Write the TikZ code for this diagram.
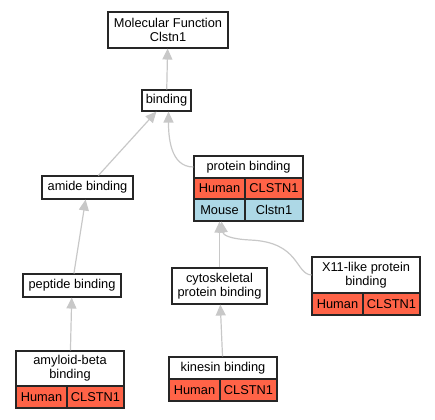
\documentclass[tikz,border=0pt]{standalone}
\usepackage{fontspec}
\setmainfont{Liberation Sans}
\usepackage{tikz}
\usetikzlibrary{arrows.meta}

\definecolor{humanRed}{HTML}{FF6347}
\definecolor{mouseBlue}{HTML}{ADD8E6}
\definecolor{edgeGray}{HTML}{C8C8C8}

\begin{document}
\begin{tikzpicture}[x=1pt,y=-1pt]
\tikzset{
    termNode/.style={
                   draw=black!85,
                   line width=1.1pt,
                   fill=white,
                   inner sep=0pt,
                   align=center,
                   font=\fontsize{12.8}{14}\selectfont
    },
    humanCell/.style={termNode, fill=humanRed},
    mouseCell/.style={termNode, fill=mouseBlue},
    isA/.style={
                   draw=edgeGray,
                   line width=1.2pt,
                   -{Triangle[length=11pt,width=10pt]}
    }
}
    \useasboundingbox (0,0) rectangle (435,419);

    \node (MF)[termNode, minimum width=120pt, minimum height=36pt] at (168,30) {Molecular Function\\Clstn1};
    \node (Bind)[termNode, minimum width=49pt, minimum height=21pt] at (166.5,100.5) {binding};
    \node (Amide)[termNode, minimum width=91pt, minimum height=23pt] at (87.5,187.5) {amide binding};

    \node (Prot)[termNode, minimum width=109pt, minimum height=22pt] at (248.5,167) {protein binding};
    \node (ProtHuman)[humanCell, minimum width=51pt, minimum height=21pt] at (219.5,188.5) {Human};
    \node (ProtHumanGene)[humanCell, minimum width=58pt, minimum height=21pt] at (274,188.5) {CLSTN1};
    \node (ProtMouse)[mouseCell, minimum width=51pt, minimum height=22pt] at (219.5,210) {Mouse};
    \node (ProtMouseGene)[mouseCell, minimum width=58pt, minimum height=22pt] at (274,210) {Clstn1};

    \node (Pept)[termNode, minimum width=98pt, minimum height=23pt] at (72,285.5) {peptide binding};
    \node (Cyto)[termNode, minimum width=95pt, minimum height=36pt] at (219.5,286) {cytoskeletal\\protein binding};

    \node (X11)[termNode, minimum width=108pt, minimum height=36pt] at (366,275) {X11-like protein\\binding};
    \node (X11Human)[humanCell, minimum width=51pt, minimum height=22pt] at (337.5,304) {Human};
    \node (X11HumanGene)[humanCell, minimum width=57pt, minimum height=22pt] at (391.5,304) {CLSTN1};

    \node (Amy)[termNode, minimum width=108pt, minimum height=35pt] at (70,368.5) {amyloid-beta\\binding};
    \node (AmyHuman)[humanCell, minimum width=51pt, minimum height=22pt] at (41.5,397) {Human};
    \node (AmyHumanGene)[humanCell, minimum width=57pt, minimum height=22pt] at (95.5,397) {CLSTN1};

    \node (Kin)[termNode, minimum width=108pt, minimum height=22pt] at (223,368) {kinesin binding};
    \node (KinHuman)[humanCell, minimum width=51pt, minimum height=22pt] at (194.5,390) {Human};
    \node (KinHumanGene)[humanCell, minimum width=57pt, minimum height=22pt] at (248.5,390) {CLSTN1};

    \draw[isA] (Bind) -- (MF);
    \draw[isA] (Amide) -- (Bind);
    \draw[isA] (Prot.west) to[out=180,in=-90] ([xshift=2pt]Bind.south);
    \draw[isA] (Pept) -- (Amide);
    \draw[isA] (Amy) -- (Pept);
    \draw[isA] (Cyto) -- (ProtMouse);
    \draw[isA] (Kin) -- (Cyto);
    \draw[isA] (X11.west) .. controls (295,274) and (300,242) .. (250,240)
        .. controls (230,239) and (223,235) .. ([xshift=2pt]ProtMouse.south);

\end{tikzpicture}
\end{document}
